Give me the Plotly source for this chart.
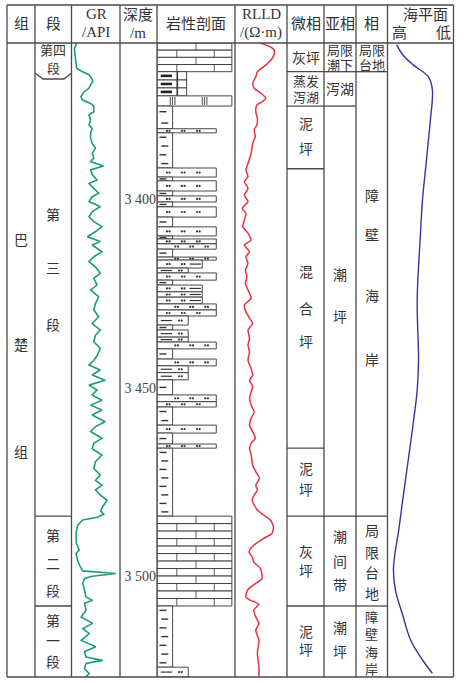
import plotly.graph_objects as go

W, H = 465, 683

# ---------------- data ----------------
DEPTH_TOP, DEPTH_BOTTOM = 3358.7, 3526.6
DEPTH_TICKS = [3400, 3450, 3500]
DEPTH_TICK_LABELS = ["3 400", "3 450", "3 500"]

GR_DEPTH = [3358.8, 3360.1, 3361.8, 3364.1, 3365.4, 3366.3, 3367.1, 3368.0, 3368.9, 3369.8, 3370.7, 3371.6,
            3372.9, 3373.8, 3374.7, 3375.5, 3376.9, 3377.7, 3379.1, 3380.4, 3381.3, 3382.6, 3383.9, 3385.3,
            3386.6, 3387.9, 3389.2, 3390.1, 3391.3, 3392.3, 3393.6, 3395.0, 3395.9, 3397.2, 3398.5, 3399.4,
            3400.7, 3402.0, 3403.4, 3404.7, 3406.0, 3407.3, 3408.7, 3410.0, 3411.3, 3412.2, 3414.0, 3415.3,
            3416.6, 3418.0, 3419.7, 3421.0, 3422.8, 3424.1, 3425.9, 3427.7, 3429.4, 3431.2, 3433.0, 3434.7,
            3436.1, 3437.8, 3439.6, 3441.4, 3442.7, 3444.0, 3445.3, 3446.6, 3448.0, 3449.3, 3450.6, 3451.9,
            3453.3, 3454.6, 3455.9, 3457.2, 3459.0, 3460.3, 3461.6, 3463.4, 3464.7, 3466.1, 3467.8, 3469.6,
            3471.4, 3473.1, 3474.5, 3475.8, 3477.1, 3478.4, 3479.8, 3481.3, 3482.6, 3483.5, 3484.3, 3485.0,
            3486.4, 3488.6, 3491.2, 3493.0, 3493.9, 3495.7, 3497.4, 3498.5, 3499.2, 3499.9, 3500.5, 3501.8,
            3503.6, 3505.4, 3506.3, 3507.1, 3508.9, 3510.7, 3512.4, 3513.8, 3515.1, 3516.9, 3518.6, 3519.9,
            3521.3, 3522.2, 3523.0, 3524.4, 3525.7, 3526.5]
GR_API = [16, 9, 11, 14, 16, 34, 54, 62, 66, 59, 54, 39,
          29, 34, 59, 69, 69, 54, 59, 54, 64, 59, 59, 64,
          74, 64, 69, 59, 99, 59, 64, 79, 54, 69, 84, 64,
          54, 89, 64, 54, 69, 94, 74, 49, 89, 64, 94, 69,
          54, 74, 89, 69, 79, 59, 84, 74, 69, 84, 64, 89,
          74, 69, 89, 80, 69, 54, 89, 64, 104, 54, 79, 64,
          94, 59, 94, 64, 104, 74, 59, 94, 69, 64, 94, 74,
          69, 89, 74, 94, 74, 89, 110, 98, 90, 100, 80, 35,
          19, 14, 15, 24, 14, 19, 27, 35, 137, 65, 40, 35,
          40, 45, 65, 40, 45, 30, 65, 35, 55, 30, 75, 40,
          45, 96, 45, 40, 55, 45]

RLLD_DEPTH = [3358.8, 3359.6, 3360.5, 3361.8, 3363.2, 3364.9, 3366.3, 3367.6, 3369.4, 3370.7, 3372.0, 3373.3,
              3374.2, 3375.1, 3376.9, 3378.6, 3380.4, 3381.7, 3383.5, 3385.3, 3387.9, 3390.6, 3392.3, 3394.1,
              3395.4, 3397.2, 3399.0, 3400.7, 3402.5, 3403.8, 3405.6, 3407.3, 3409.1, 3410.9, 3412.2, 3414.0,
              3415.3, 3417.1, 3418.8, 3420.6, 3422.4, 3424.1, 3426.3, 3428.1, 3429.9, 3431.6, 3433.0, 3434.7,
              3436.9, 3438.7, 3440.5, 3442.7, 3444.9, 3446.6, 3448.0, 3449.7, 3451.1, 3452.8, 3454.6, 3456.4,
              3458.1, 3459.9, 3461.6, 3463.4, 3464.7, 3466.1, 3467.8, 3470.5, 3472.2, 3474.0, 3475.8, 3477.1,
              3478.4, 3479.8, 3482.4, 3483.7, 3485.0, 3486.8, 3488.6, 3489.9, 3491.7, 3493.4, 3494.8, 3496.1,
              3497.9, 3500.5, 3501.8, 3503.6, 3505.4, 3506.3, 3507.3, 3508.9, 3510.7, 3512.4, 3514.2, 3516.9,
              3520.4, 3523.9, 3526.5]
RLLD_VALUE = [50, 66, 75, 75, 69, 56, 43, 40, 34, 37, 50, 59,
              53, 42, 40, 43, 42, 37, 39, 34, 31, 25, 21, 25,
              18, 25, 18, 25, 14, 21, 18, 15, 25, 31, 18, 28,
              21, 25, 20, 23, 20, 25, 31, 18, 21, 28, 34, 25,
              28, 25, 28, 25, 31, 34, 28, 34, 31, 28, 31, 37,
              31, 28, 34, 39, 31, 28, 31, 34, 40, 47, 40, 43,
              37, 33, 43, 55, 68, 74, 71, 55, 36, 27, 33, 36,
              49, 52, 40, 24, 21, 30, 46, 36, 40, 46, 40, 46,
              43, 46, 46]

SEA_DEPTH = [3359.2, 3361.8, 3364.5, 3367.7, 3371.1, 3379.1, 3384.4, 3391.5, 3400.3, 3409.0, 3426.8, 3442.7,
             3450.6, 3459.4, 3468.4, 3479.8, 3487.7, 3494.3, 3498.3, 3503.6, 3510.2, 3516.8, 3522.1, 3525.6]
SEA_LEVEL = [14, 23, 39, 62, 68, 65, 62, 58, 53, 50, 45, 47,
             45, 39, 32, 23, 17, 11, 9, 12, 23, 35, 53, 68]   # 0 = high, 100 = low

# lithology beds: top, bottom, grain-size class (column width), lithology
BED_TOP = [3358.7, 3366.3, 3368.5, 3370.6, 3372.7, 3375.4, 3381.4, 3382.5, 3391.8, 3394.2, 3395.2, 3397.9,
           3399.2, 3400.8, 3402.1, 3404.8, 3407.4, 3409.8, 3410.6, 3411.9, 3413.3, 3415.4, 3416.2, 3418.3,
           3419.6, 3421.5, 3422.8, 3424.6, 3426.0, 3427.8, 3429.4, 3431.0, 3433.4, 3434.7, 3436.6, 3437.9,
           3439.7, 3442.4, 3444.2, 3446.0, 3447.9, 3451.9, 3453.7, 3455.1, 3459.9, 3462.0, 3464.9, 3466.0,
           3484.0, 3507.8, 3524.0]
BED_BOTTOM = BED_TOP[1:] + [3526.6]
BED_GRAIN = [4.8, 1.9, 1.9, 1.9, 4.8, 1, 3.8, 1, 3.8, 1, 3.8, 1,
             3.8, 1, 3.8, 1, 3.8, 1, 3.8, 3.8, 1, 3.8, 2.9, 2.0,
             3.8, 1, 2.9, 2.9, 2.9, 3.8, 3.8, 2.0, 1, 2.0, 2.0, 3.8,
             1, 3.8, 2.0, 2.0, 1, 3.8, 3.8, 1, 3.8, 1, 3.8, 1,
             4.8, 1, 2.0]
BED_LITH = ["ls", "mdg", "mdg", "mdg", "gy", "md", "st", "md", "st", "md", "st", "md",
            "st", "md", "st", "md", "st", "md", "st", "st", "md", "st", "sm", "sm",
            "st", "md", "sm", "sm", "sm", "st", "st", "sm", "md", "sm", "sm", "st",
            "md", "st", "sm", "sm", "md", "st", "st", "md", "st", "md", "st", "md",
            "ls", "md", "sm"]

MEMBER_BOUNDS = [3484.0, 3507.8]
MICRO_BOUNDS = [3366.3, 3375.4, 3392.0, 3466.0, 3484.0, 3507.8]
SUB_BOUNDS = [3366.3, 3375.4, 3484.0, 3507.8]
FACIES_BOUNDS = [3366.3, 3484.0, 3507.8]

# ---------------- layout helpers ----------------
def px(x):
    return x / W

def py(y):
    return 1 - y / H

COLS = [7, 35, 71.5, 120, 157, 235, 287, 324, 356, 387.5, 453.5]
TOP, HEAD, BOT = 5, 43, 677
LINE = "#4a4a4a"
CJK = "Liberation Serif, Noto Sans CJK SC"
SERIF = "Liberation Serif"

fig = go.Figure()

shapes = []
dash_x, dash_y = [], []
ldash_x, ldash_y = [], []
bdash_x, bdash_y = [], []
dot_x, dot_y = [], []

def bed_rect(x1, t, b):
    shapes.append(dict(type="rect", xref="x2", yref="y", x0=0, x1=x1, y0=t, y1=b,
                       line=dict(color="#333", width=0.9), fillcolor="white", layer="below"))

def vline(x, t, b, w=0.8):
    shapes.append(dict(type="line", xref="x2", yref="y", x0=x, x1=x, y0=t, y1=b,
                       line=dict(color="#333", width=w), layer="below"))

def dots(xc, y):
    for dx in (-0.085, 0.085):
        dot_x.append(xc + dx)
        dot_y.append(y)

for i, (t, b, g, k) in enumerate(zip(BED_TOP, BED_BOTTOM, BED_GRAIN, BED_LITH)):
    mid = (t + b) / 2
    if k == "ls":
        n = max(1, round((b - t) / 1.95))
        h = (b - t) / n
        for r in range(n):
            rt, rb = t + r * h, t + (r + 1) * h
            bed_rect(g, rt, rb)
            joints = [2.5] if r % 2 == 0 else [1.27, 3.67]
            for jx in joints:
                vline(jx, rt, rb)
        continue
    bed_rect(g, t, b)
    if k == "md":
        n = max(1, int((b - t) / 2.1))
        step = (b - t) / n
        for j in range(n):
            dash_y.append(t + step * (j + 0.5))
            dash_x.append(0.38 if j % 2 == 0 else 0.5)
    elif k == "st":
        xs = [0.72, 1.68, 2.65] if i % 2 == 0 else [1.26, 2.22, 3.18]
        for xc in xs:
            dots(xc, mid)
    elif k == "sm":
        if g >= 2.5:
            dots(0.72, mid)
            dots(1.68, mid)
            ldash_x.append(2.45)
            ldash_y.append(mid)
        else:
            ldash_x.append(0.6)
            ldash_y.append(mid)
            dots(1.5, mid)
    elif k == "gy":
        for xc in (0.85, 1.0, 1.15, 2.9, 3.05, 3.2):
            vline(xc, t + 0.3, b - 0.3, 0.9)
    elif k == "mdg":
        bdash_x.append(0.6)
        bdash_y.append(mid)
        vline(1.3, t, b, 1.6)

fig.add_trace(go.Scatter(x=dash_x, y=dash_y, xaxis="x2", yaxis="y", mode="markers",
                         marker=dict(symbol="line-ew", size=5, line=dict(color="#333", width=1.4)),
                         hoverinfo="skip"))
fig.add_trace(go.Scatter(x=ldash_x, y=ldash_y, xaxis="x2", yaxis="y", mode="markers",
                         marker=dict(symbol="line-ew", size=8, line=dict(color="#333", width=1.2)),
                         hoverinfo="skip"))
fig.add_trace(go.Scatter(x=bdash_x, y=bdash_y, xaxis="x2", yaxis="y", mode="markers",
                         marker=dict(symbol="line-ew", size=8, line=dict(color="#222", width=2.6)),
                         hoverinfo="skip"))
fig.add_trace(go.Scatter(x=dot_x, y=dot_y, xaxis="x2", yaxis="y", mode="markers",
                         marker=dict(symbol="circle", size=2.2, color="#333"), hoverinfo="skip"))

fig.add_trace(go.Scatter(x=GR_API, y=GR_DEPTH, xaxis="x", yaxis="y", mode="lines",
                         line=dict(color="#1c9c7c", width=1.6), hoverinfo="skip"))
fig.add_trace(go.Scatter(x=RLLD_VALUE, y=RLLD_DEPTH, xaxis="x3", yaxis="y", mode="lines",
                         line=dict(color="#e8333f", width=1.5, shape="spline", smoothing=0.6),
                         hoverinfo="skip"))
fig.add_trace(go.Scatter(x=SEA_LEVEL, y=SEA_DEPTH, xaxis="x4", yaxis="y", mode="lines",
                         line=dict(color="#37339a", width=1.4, shape="spline", smoothing=1.0),
                         hoverinfo="skip"))

# ---------------- table frame ----------------
def pline(x0, y0, x1, y1, w=1.3):
    shapes.append(dict(type="line", xref="paper", yref="paper", x0=px(x0), x1=px(x1),
                       y0=py(y0), y1=py(y1), line=dict(color=LINE, width=w), layer="above"))

def dline(xa, xb, depth, w=1.3):
    shapes.append(dict(type="line", xref="paper", yref="y", x0=px(xa), x1=px(xb),
                       y0=depth, y1=depth, line=dict(color=LINE, width=w), layer="above"))

for c in COLS:
    pline(c, TOP, c, BOT)
for yy in (TOP, HEAD, BOT):
    pline(COLS[0], yy, COLS[-1], yy)

# member 4 label box (notched)
shapes.append(dict(type="path", xref="paper", yref="paper",
                   path="M {},{} L {},{} L {},{} L {},{}".format(px(35), py(73), px(43), py(79),
                                                                px(64), py(79), px(71.5), py(73)),
                   line=dict(color=LINE, width=1.3)))
for d in MEMBER_BOUNDS:
    dline(COLS[1], COLS[2], d)
for d in MICRO_BOUNDS:
    dline(COLS[6], COLS[7], d)
for d in SUB_BOUNDS:
    dline(COLS[7], COLS[8], d)
for d in FACIES_BOUNDS:
    dline(COLS[8], COLS[9], d)

# ---------------- text ----------------
ann = []

def label(text, x, y, size=14, font=CJK, color="#333"):
    ann.append(dict(text=text, x=px(x), y=py(y), xref="paper", yref="paper", showarrow=False,
                    xanchor="center", yanchor="middle", font=dict(family=font, size=size, color=color)))

HEADER_CJK = [("组", 21, 24), ("段", 53, 24), ("深度", 138, 15), ("岩性剖面", 196, 24),
              ("微相", 305.5, 24), ("亚相", 340, 24), ("相", 371.5, 24), ("海平面", 425, 15),
              ("高", 399, 33), ("低", 443, 33)]
for t, x, y in HEADER_CJK:
    label(t, x, y, 15)
HEADER_LAT = [("GR", 96, 14), ("/API", 96, 32), ("/m", 138, 33), ("RLLD", 261, 14), ("/(Ω·m)", 261, 32)]
for t, x, y in HEADER_LAT:
    label(t, x, y, 15, SERIF)

SMALL = [("局限", 340, 50.5), ("潮下", 340, 65), ("局限", 371.5, 50.5), ("台地", 371.5, 65),
         ("蒸发", 305.5, 81.5), ("泻湖", 305.5, 97),
         ("第四", 53, 51), ("段", 53, 68),
         ("障", 371.5, 617), ("壁", 371.5, 634.5), ("海", 371.5, 652), ("岸", 371.5, 669)]
for t, x, y in SMALL:
    label(t, x, y, 13)

BODY = [("第", 53, 215), ("三", 53, 268), ("段", 53, 325),
        ("第", 53, 536), ("二", 53, 564), ("段", 53, 591),
        ("第", 53, 621), ("一", 53, 641), ("段", 53, 662),
        ("巴", 21, 240), ("楚", 21, 345), ("组", 21, 452),
        ("灰坪", 305.5, 58), ("泥", 305.5, 124), ("坪", 305.5, 150),
        ("混", 305.5, 273), ("合", 305.5, 310), ("坪", 305.5, 342), ("泥", 305.5, 469), ("坪", 305.5, 490),
        ("灰", 305.5, 552), ("坪", 305.5, 571), ("泥", 305.5, 632), ("坪", 305.5, 650.5),
        ("泻湖", 340, 89), ("潮", 340, 275), ("坪", 340, 318),
        ("潮", 340, 537), ("间", 340, 562), ("带", 340, 585), ("潮", 340, 628), ("坪", 340, 652),
        ("障", 371.5, 196), ("壁", 371.5, 235), ("海", 371.5, 296),
        ("岸", 371.5, 360), ("局", 371.5, 531), ("限", 371.5, 553), ("台", 371.5, 573), ("地", 371.5, 594)]
for t, x, y in BODY:
    label(t, x, y, 14)

hidden = dict(visible=False, showgrid=False, zeroline=False, fixedrange=True)
fig.update_layout(
    width=W, height=H, margin=dict(l=0, r=0, t=0, b=0),
    paper_bgcolor="white", plot_bgcolor="rgba(0,0,0,0)", showlegend=False,
    xaxis=dict(domain=[px(COLS[2]), px(COLS[3])], range=[0, 150], anchor="y", **hidden),
    xaxis2=dict(domain=[px(COLS[4]), px(COLS[5])], range=[0, 5], anchor="y", **hidden),
    xaxis3=dict(domain=[px(COLS[5]), px(COLS[6])], range=[0, 100], anchor="y", **hidden),
    xaxis4=dict(domain=[px(COLS[9]), px(COLS[10])], range=[0, 100], anchor="y", **hidden),
    yaxis=dict(domain=[py(BOT), py(HEAD)], range=[DEPTH_BOTTOM, DEPTH_TOP], anchor="free",
               position=px(COLS[4]) - 0.002, side="left", showgrid=False, zeroline=False,
               showline=False, ticks="", tickvals=DEPTH_TICKS, ticktext=DEPTH_TICK_LABELS,
               tickfont=dict(family=SERIF, size=14, color="#444"), automargin=False, fixedrange=True),
    shapes=shapes, annotations=ann,
)

fig.write_html("out.html")
